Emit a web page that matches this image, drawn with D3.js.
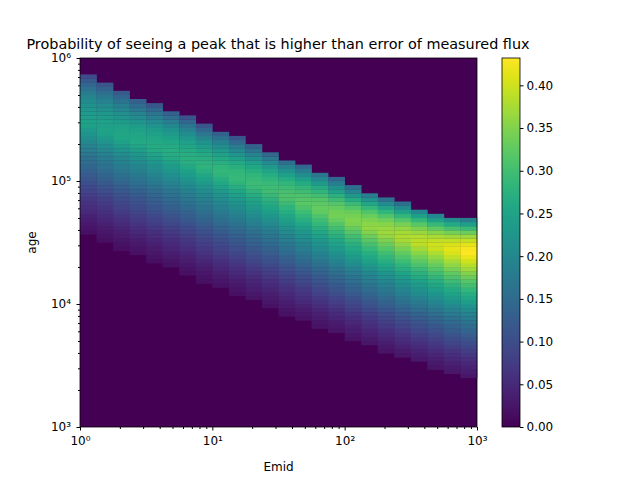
<!DOCTYPE html>
<html><head><meta charset="utf-8">
<script src="https://cdn.jsdelivr.net/npm/d3@7"></script>
<style>body{margin:0;background:#fff}text{font-family:"DejaVu Sans",sans-serif}</style>
</head><body><div id="chart"></div>
<script>
// column edges in log10(Emid): 8 columns per decade
const emidEdgesLog = d3.range(0, 3.0001, 0.125);
// per column values (log10 age)
const topLog =    [5.85,5.80,5.74,5.68,5.63,5.58,5.52,5.45,5.40,5.35,5.30,5.24,5.18,5.13,5.08,5.02,4.96,4.91,4.86,4.82,4.78,4.74,4.71,4.69];
const bottomLog = [4.55,4.50,4.44,4.39,4.34,4.29,4.24,4.18,4.12,4.07,4.02,3.97,3.91,3.86,3.81,3.76,3.71,3.66,3.61,3.56,3.52,3.48,3.44,3.41];
const peakLog =   [5.45,5.40,5.35,5.31,5.26,5.21,5.16,5.11,5.06,5.01,4.96,4.91,4.86,4.81,4.76,4.71,4.66,4.61,4.57,4.53,4.49,4.46,4.43,4.41];
const peakVal =   [0.245,0.25,0.255,0.26,0.265,0.27,0.275,0.28,0.285,0.29,0.295,0.30,0.31,0.32,0.33,0.34,0.35,0.36,0.37,0.38,0.39,0.40,0.415,0.432];
const rowStep = 1/30;
const vmax = 0.432;
const cbTicks = [0,0.05,0.1,0.15,0.2,0.25,0.3,0.35,0.4];

const W = 640, H = 480;
const m = {left: 80, top: 58, right: 477, bottom: 427};
const svg = d3.select("#chart").append("svg").attr("width", W).attr("height", H);
const x = d3.scaleLog().domain([1, 1000]).range([m.left, m.right]);
const y = d3.scaleLog().domain([1000, 1e6]).range([m.bottom, m.top]);
const color = v => d3.interpolateViridis(Math.max(0, Math.min(1, v / vmax)));

svg.append("rect").attr("x", m.left).attr("y", m.top).attr("width", m.right - m.left)
  .attr("height", m.bottom - m.top).attr("fill", color(0));

const cells = [];
for (let i = 0; i < topLog.length; i++) {
  for (let a = 3; a < 6 - 1e-9; a += rowStep) {
    const c = a + rowStep / 2;
    if (c > topLog[i] || c < bottomLog[i]) continue;
    let v;
    if (c >= peakLog[i]) {
      const t = (c - peakLog[i]) / (topLog[i] - peakLog[i]);
      v = peakVal[i] * (1 - 0.6 * t * t);
    } else {
      const t = (peakLog[i] - c) / (peakLog[i] - bottomLog[i]);
      v = peakVal[i] * (0.06 + 0.94 * Math.pow(1 - t, 1.3));
    }
    cells.push({x0: emidEdgesLog[i], x1: emidEdgesLog[i + 1], y0: a, y1: a + rowStep, v});
  }
}
svg.append("g").selectAll("rect").data(cells).join("rect")
  .attr("x", d => x(10 ** d.x0)).attr("width", d => x(10 ** d.x1) - x(10 ** d.x0) + 0.3)
  .attr("y", d => y(10 ** d.y1)).attr("height", d => y(10 ** d.y0) - y(10 ** d.y1) + 0.3)
  .attr("fill", d => color(d.v));

const sup = {"0":"⁰","1":"¹","2":"²","3":"³","4":"⁴","5":"⁵","6":"⁶"};
const fmt = d => { const e = Math.round(Math.log10(d)); return Math.abs(Math.log10(d) - e) < 1e-6 ? "10" + sup[e] : ""; };
const minor = d => Math.abs(Math.log10(d) - Math.round(Math.log10(d))) > 1e-6;

const xAx = svg.append("g").attr("transform", `translate(0,${m.bottom})`)
  .call(d3.axisBottom(x).ticks(10).tickFormat(fmt).tickSizeOuter(0));
const yAx = svg.append("g").attr("transform", `translate(${m.left},0)`)
  .call(d3.axisLeft(y).ticks(10).tickFormat(fmt).tickSizeOuter(0));
[xAx, yAx].forEach(g => {
  g.select(".domain").remove();
  g.selectAll(".tick text").attr("font-size", 12).attr("font-family", "DejaVu Sans");
  g.selectAll(".tick line").filter(minor).attr(g === xAx ? "y2" : "x2", g === xAx ? 2 : -2);
  g.selectAll(".tick line").filter(d => !minor(d)).attr(g === xAx ? "y2" : "x2", g === xAx ? 3.5 : -3.5);
});
svg.append("rect").attr("x", m.left).attr("y", m.top).attr("width", m.right - m.left)
  .attr("height", m.bottom - m.top).attr("fill", "none").attr("stroke", "#000").attr("stroke-width", 0.8);

svg.append("text").attr("x", (m.left + m.right) / 2).attr("y", 471).attr("text-anchor", "middle")
  .attr("font-size", 12).text("Emid");
svg.append("text").attr("transform", `translate(36,${(m.top + m.bottom) / 2}) rotate(-90)`)
  .attr("text-anchor", "middle").attr("font-size", 12).text("age");
svg.append("text").attr("x", 278).attr("y", 49).attr("text-anchor", "middle").attr("font-size", 14.4)
  .text("Probability of seeing a peak that is higher than error of measured flux");

// colorbar
const cb = {x: 502, w: 18};
const cy = d3.scaleLinear().domain([0, vmax]).range([m.bottom, m.top]);
const grad = svg.append("defs").append("linearGradient").attr("id", "vir")
  .attr("x1", 0).attr("y1", 1).attr("x2", 0).attr("y2", 0);
d3.range(0, 1.0001, 0.05).forEach(t => grad.append("stop").attr("offset", t).attr("stop-color", d3.interpolateViridis(t)));
svg.append("rect").attr("x", cb.x).attr("y", m.top).attr("width", cb.w).attr("height", m.bottom - m.top)
  .attr("fill", "url(#vir)").attr("stroke", "#000").attr("stroke-width", 0.8);
const cAx = svg.append("g").attr("transform", `translate(${cb.x + cb.w},0)`)
  .call(d3.axisRight(cy).tickValues(cbTicks).tickFormat(d3.format(".2f")).tickSize(3.5));
cAx.select(".domain").remove();
cAx.selectAll(".tick text").attr("font-size", 12).attr("font-family", "DejaVu Sans");
</script></body></html>
